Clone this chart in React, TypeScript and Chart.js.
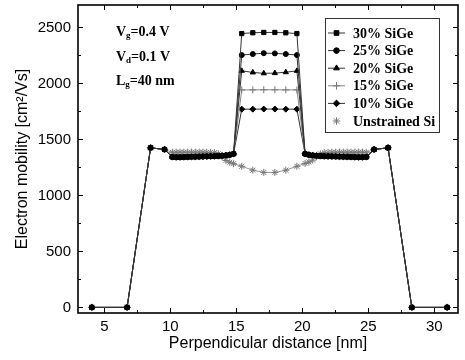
import React, { useEffect, useRef } from 'react';
import { Chart, registerables } from 'chart.js';
import { drawPoint } from 'chart.js/helpers';

Chart.register(...registerables);

// Perpendicular distance positions (nm)
const xPositions = [
  4.05, 6.72, 8.5, 9.56,
  10.15, 10.44, 10.73, 11.02, 11.31, 11.6, 11.89, 12.18, 12.47, 12.76, 13.05, 13.34, 13.63, 13.92, 14.21, 14.5, 14.79,
  15.41, 16.25, 17.08, 17.92, 18.75, 19.59,
  20.21, 20.5, 20.79, 21.08, 21.37, 21.66, 21.95, 22.24, 22.53, 22.82, 23.11, 23.4, 23.69, 23.98, 24.27, 24.56, 24.85,
  25.44, 26.5, 28.3, 30.98,
];

// SiGe flanks (shared by all strained series)
const sigeLeftFlank = [0, 0, 1425, 1410, 1343, 1341, 1341, 1342, 1343, 1344, 1345, 1346, 1347, 1348, 1349, 1350, 1352, 1354, 1357, 1362, 1371];
const sigeRightFlank = [1371, 1362, 1357, 1354, 1352, 1350, 1349, 1348, 1347, 1346, 1345, 1344, 1343, 1342, 1341, 1341, 1343, 1410, 1425, 0, 0];

// Channel plateau values
const plateau30 = [2445, 2452, 2455, 2455, 2452, 2445];
const plateau25 = [2253, 2262, 2270, 2268, 2262, 2253];
const plateau20 = [2112, 2098, 2090, 2092, 2100, 2112];
const plateau15 = [1942, 1942, 1943, 1943, 1942, 1942];
const plateau10 = [1770, 1770, 1771, 1771, 1770, 1770];

// Unstrained Si
const unstrainedLeft = [0, 0, 1425, 1410, 1385, 1386, 1386, 1386, 1386, 1386, 1386, 1386, 1386, 1385, 1384, 1382, 1372, 1345, 1312, 1296, 1283];
const unstrainedMid = [1260, 1225, 1205, 1205, 1225, 1260];
const unstrainedRight = [1285, 1298, 1315, 1345, 1372, 1382, 1384, 1385, 1386, 1386, 1386, 1386, 1386, 1386, 1386, 1386, 1385, 1410, 1425, 0, 0];

const seriesLabels = ['30% SiGe', '25% SiGe', '20% SiGe', '15% SiGe', '10% SiGe', 'Unstrained Si'];

const xTicks = [5, 10, 15, 20, 25, 30];
const xMinorTicks = [7.5, 12.5, 17.5, 22.5, 27.5];
const yTicks = [0, 500, 1000, 1500, 2000, 2500];
const yMinorTicks = [250, 750, 1250, 1750, 2250];

const seriesValues = [
  [...sigeLeftFlank, ...plateau30, ...sigeRightFlank],
  [...sigeLeftFlank, ...plateau25, ...sigeRightFlank],
  [...sigeLeftFlank, ...plateau20, ...sigeRightFlank],
  [...sigeLeftFlank, ...plateau15, ...sigeRightFlank],
  [...sigeLeftFlank, ...plateau10, ...sigeRightFlank],
  [...unstrainedLeft, ...unstrainedMid, ...unstrainedRight],
];

const styles = [
  { pointStyle: 'rect', radius: 3.0, color: '#000', line: '#333' },
  { pointStyle: 'circle', radius: 2.5, color: '#000', line: '#333' },
  { pointStyle: 'triangle', radius: 3.0, color: '#000', line: '#333' },
  { pointStyle: 'cross', radius: 3.5, color: '#777', line: '#888' },
  { pointStyle: 'rectRot', radius: 3.0, color: '#000', line: '#333' },
  { pointStyle: 'star', radius: 3.5, color: '#777', line: '#999' },
];

const SANS = '"Liberation Sans", Arial, sans-serif';
const SERIF = '"Liberation Serif", "Times New Roman", serif';

const framePlugin = {
  id: 'frame',
  afterDatasetsDraw(chart: any) {
    const { ctx, chartArea: a, scales } = chart;
    const xs = scales.x;
    const ys = scales.y;
    ctx.save();
    ctx.strokeStyle = '#000';
    ctx.lineWidth = 1.6;
    ctx.strokeRect(a.left, a.top, a.right - a.left, a.bottom - a.top);
    ctx.lineWidth = 1;
    ctx.beginPath();
    const vx = (v: number, len: number) => {
      const p = Math.round(xs.getPixelForValue(v)) + 0.5;
      ctx.moveTo(p, a.bottom);
      ctx.lineTo(p, a.bottom - len);
      ctx.moveTo(p, a.top);
      ctx.lineTo(p, a.top + len);
    };
    const vy = (v: number, len: number) => {
      const p = Math.round(ys.getPixelForValue(v)) + 0.5;
      ctx.moveTo(a.left, p);
      ctx.lineTo(a.left + len, p);
      ctx.moveTo(a.right, p);
      ctx.lineTo(a.right - len, p);
    };
    xTicks.forEach((v) => vx(v, 5));
    xMinorTicks.forEach((v) => vx(v, 3));
    yTicks.forEach((v) => vy(v, 5));
    yMinorTicks.forEach((v) => vy(v, 3));
    ctx.stroke();
    ctx.restore();
  },
};

const annotationPlugin = {
  id: 'annotations',
  afterDraw(chart: any) {
    const { ctx, chartArea: a } = chart;
    const lines = [
      ['V', 'g', '=0.4 V', 32],
      ['V', 'd', '=0.1 V', 57],
      ['L', 'g', '=40 nm', 81],
    ] as [string, string, string, number][];
    ctx.save();
    ctx.fillStyle = '#000';
    ctx.textBaseline = 'middle';
    ctx.textAlign = 'left';
    lines.forEach(([main, sub, rest, yy]) => {
      let x = a.left + 38;
      const y = yy;
      ctx.font = `bold 14px ${SERIF}`;
      ctx.fillText(main, x, y);
      x += ctx.measureText(main).width;
      ctx.font = `bold 9px ${SERIF}`;
      ctx.fillText(sub, x, y + 4);
      x += ctx.measureText(sub).width;
      ctx.font = `bold 14px ${SERIF}`;
      ctx.fillText(rest, x, y);
    });
    ctx.restore();
  },
};

const boxLegendPlugin = {
  id: 'boxLegend',
  afterDraw(chart: any) {
    const { ctx, chartArea: a } = chart;
    const left = a.right - 133;
    const top = 18;
    const w = 114;
    const h = 114;
    ctx.save();
    ctx.fillStyle = '#fff';
    ctx.fillRect(left, top, w, h);
    ctx.strokeStyle = '#333';
    ctx.lineWidth = 1;
    ctx.strokeRect(left + 0.5, top + 0.5, w, h);
    chart.data.datasets.forEach((ds: any, i: number) => {
      const y = top + 15 + i * 17.6;
      const st = styles[i];
      if (i < 5) {
        ctx.strokeStyle = st.line;
        ctx.lineWidth = 1;
        ctx.beginPath();
        ctx.moveTo(left + 3, y);
        ctx.lineTo(left + 20, y);
        ctx.stroke();
      }
      ctx.fillStyle = st.color;
      ctx.strokeStyle = st.color;
      ctx.lineWidth = 1;
      drawPoint(ctx, { pointStyle: st.pointStyle, radius: st.radius + 0.3, rotation: 0, borderWidth: 1 } as any, left + 11.5, y);
      ctx.fillStyle = '#000';
      ctx.font = `bold 14px ${SERIF}`;
      ctx.textBaseline = 'middle';
      ctx.textAlign = 'left';
      ctx.fillText(ds.label, left + 28, y + 1);
    });
    ctx.restore();
  },
};

export default function App() {
  const canvasRef = useRef<HTMLCanvasElement | null>(null);

  useEffect(() => {
    const canvas = canvasRef.current;
    if (!canvas) return;
    const datasets = seriesLabels.map((label, i) => ({
      label,
      data: xPositions.map((x, j) => ({ x, y: seriesValues[i][j] })),
      showLine: true,
      borderColor: styles[i].line,
      backgroundColor: styles[i].color,
      pointBorderColor: styles[i].color,
      pointBackgroundColor: styles[i].color,
      pointStyle: styles[i].pointStyle,
      pointRadius: styles[i].radius,
      pointBorderWidth: 1,
      borderWidth: 1,
      tension: 0,
    }));
    const chart = new Chart(canvas, {
      type: 'scatter',
      data: { datasets } as any,
      options: {
        responsive: false,
        animation: false,
        devicePixelRatio: 1,
        layout: { padding: { left: 0, right: 7, top: 2, bottom: 0 } },
        plugins: {
          legend: { display: false },
          tooltip: { enabled: false },
        },
        scales: {
          x: {
            type: 'linear',
            min: 3,
            max: 31.8,
            grid: { display: false, drawTicks: false },
            border: { display: false },
            afterBuildTicks: (s: any) => {
              s.ticks = xTicks.map((v) => ({ value: v }));
            },
            afterFit: (s: any) => {
              s.height = 47;
              s.paddingLeft = 0;
              s.paddingRight = 0;
            },
            ticks: {
              color: '#000',
              font: { family: SANS, size: 15 },
              padding: 5,
              maxRotation: 0,
              autoSkip: false,
              callback: (v: any) => String(v),
            },
            title: {
              display: true,
              text: 'Perpendicular distance [nm]',
              color: '#000',
              font: { family: SANS, size: 16, lineHeight: 1.2 },
              padding: { top: 0, bottom: 7 },
            },
          },
          y: {
            type: 'linear',
            min: -50,
            max: 2700,
            grid: { display: false, drawTicks: false },
            border: { display: false },
            afterBuildTicks: (s: any) => {
              s.ticks = yTicks.map((v) => ({ value: v }));
            },
            afterFit: (s: any) => {
              s.width = 78;
              s.paddingTop = 0;
              s.paddingBottom = 0;
            },
            ticks: {
              color: '#000',
              font: { family: SANS, size: 15 },
              padding: 7,
              autoSkip: false,
              callback: (v: any) => String(v),
            },
            title: {
              display: true,
              text: 'Electron mobility [cm²/Vs]',
              color: '#000',
              font: { family: SANS, size: 16, lineHeight: 1.2 },
              padding: { top: 13, bottom: 0 },
            },
          },
        },
      } as any,
      plugins: [framePlugin, annotationPlugin, boxLegendPlugin],
    });
    return () => chart.destroy();
  }, []);

  return (
    <div style={{ position: 'absolute', left: 0, top: 0, width: 465, height: 360, background: '#fff' }}>
      <canvas ref={canvasRef} width={465} height={360} style={{ width: 465, height: 360, display: 'block' }} />
    </div>
  );
}
